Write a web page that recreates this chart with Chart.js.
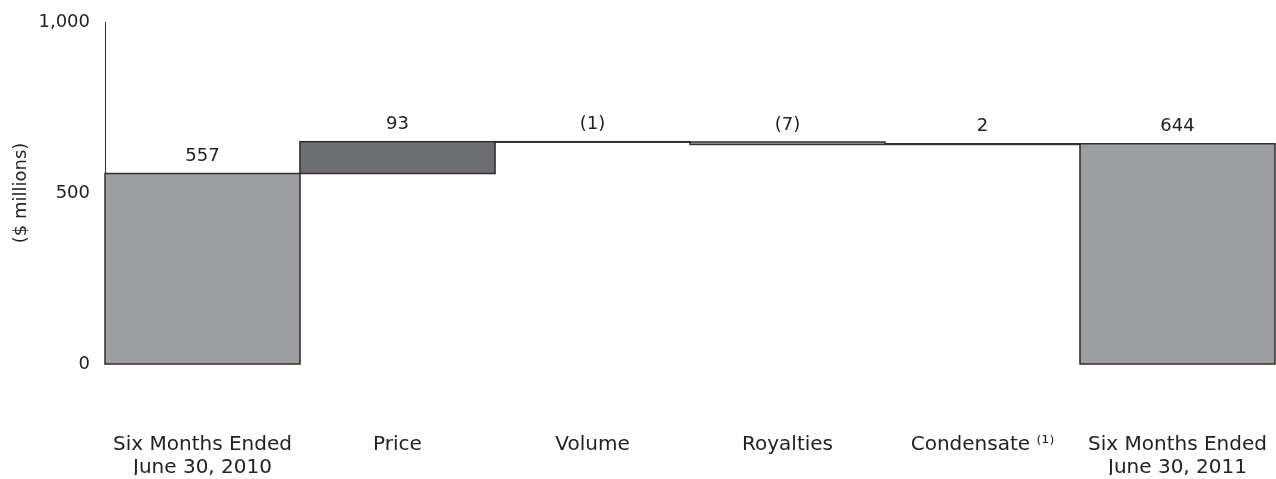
<!DOCTYPE html>
<html>
<head>
<meta charset="utf-8">
<script src="https://cdn.jsdelivr.net/npm/chart.js@4/dist/chart.umd.min.js"></script>
<style>
  html, body { margin: 0; padding: 0; background: #fff; }
  #wrap { width: 1276px; height: 479px; position: relative; }
</style>
</head>
<body>
<div id="wrap"><canvas id="c" width="1276" height="479" style="width:1276px;height:479px"></canvas></div>
<script>
// ---- data ----
const categories = [["Six Months Ended", "June 30, 2010"], "Price", "Volume", "Royalties", "Condensate \u207D\u00B9\u207E", ["Six Months Ended", "June 30, 2011"]];
const changes = [557, 93, -1, -7, 2, 644];
const isTotal = [true, false, false, false, false, true];
const valueLabels = ["557", "93", "(1)", "(7)", "2", "644"];
const yTicks = [0, 500, 1000];

// ---- build floating ranges ----
let running = 0;
const ranges = changes.map((v, i) => {
  if (isTotal[i]) { running = v; return [0, v]; }
  const start = running; running += v; return [start, running];
});
const fills = changes.map((v, i) => isTotal[i] ? '#9d9ea1' : (v > 50 ? '#6d6e71' : '#b9babc'));

const FONT = 'DejaVu Sans, Verdana, sans-serif';
const TEXT = '#222222';
const FS = 18;
const FSX = 20;

const outlinePlugin = {
  id: 'outline',
  afterDatasetsDraw(chart) {
    const ctx = chart.ctx;
    const meta = chart.getDatasetMeta(0);
    ctx.save();
    ctx.strokeStyle = '#2e2e30';
    ctx.lineWidth = 1.5;
    meta.data.forEach((bar, i) => {
      const p = bar.getProps(['x', 'y', 'base', 'width'], true);
      const left = p.x - p.width / 2, right = p.x + p.width / 2;
      const top = Math.min(p.y, p.base), bottom = Math.max(p.y, p.base);
      ctx.strokeRect(left, top, right - left, Math.max(bottom - top, 0.5));
    });
    ctx.fillStyle = TEXT;
    ctx.font = FS + 'px ' + FONT;
    ctx.textAlign = 'center';
    ctx.textBaseline = 'middle';
    const ys = chart.scales.y;
    meta.data.forEach((bar, i) => {
      const top = ys.getPixelForValue(Math.max(ranges[i][0], ranges[i][1]));
      ctx.fillText(valueLabels[i], bar.x, top - 17);
    });
    ctx.restore();
  }
};

const chart = new Chart(document.getElementById('c'), {
  type: 'bar',
  data: {
    labels: categories,
    datasets: [{
      data: ranges,
      backgroundColor: fills,
      borderWidth: 0,
      barPercentage: 1,
      categoryPercentage: 1
    }]
  },
  options: {
    responsive: false,
    animation: false,
    devicePixelRatio: 1,
    layout: { padding: { top: 22, right: 1, bottom: 4, left: 0 } },
    plugins: { legend: { display: false }, tooltip: { enabled: false } },
    scales: {
      x: {
        afterFit(s) { s.paddingLeft = 0; s.paddingRight = 0; s.height = 111; },
        grid: { display: false, drawTicks: false },
        border: { display: false },
        ticks: { color: TEXT, font: { family: FONT, size: FSX, lineHeight: 1.15 }, padding: 69, maxRotation: 0, autoSkip: false }
      },
      y: {
        min: 0, max: 1000,
        afterFit(s) { s.width = 105; s.paddingTop = 0; s.paddingBottom = 0; },
        afterBuildTicks(s) { s.ticks = yTicks.map(v => ({ value: v })); },
        grid: { display: false, drawTicks: false },
        border: { display: true, color: '#2e2e30', width: 1 },
        ticks: {
          color: TEXT, font: { family: FONT, size: FS }, padding: 15,
          callback: v => v.toLocaleString('en-US')
        },
        title: { display: true, text: '($ millions)', color: TEXT, font: { family: FONT, size: FS }, padding: { top: 11, bottom: 0 } }
      }
    }
  },
  plugins: [outlinePlugin]
});
</script>
</body>
</html>
